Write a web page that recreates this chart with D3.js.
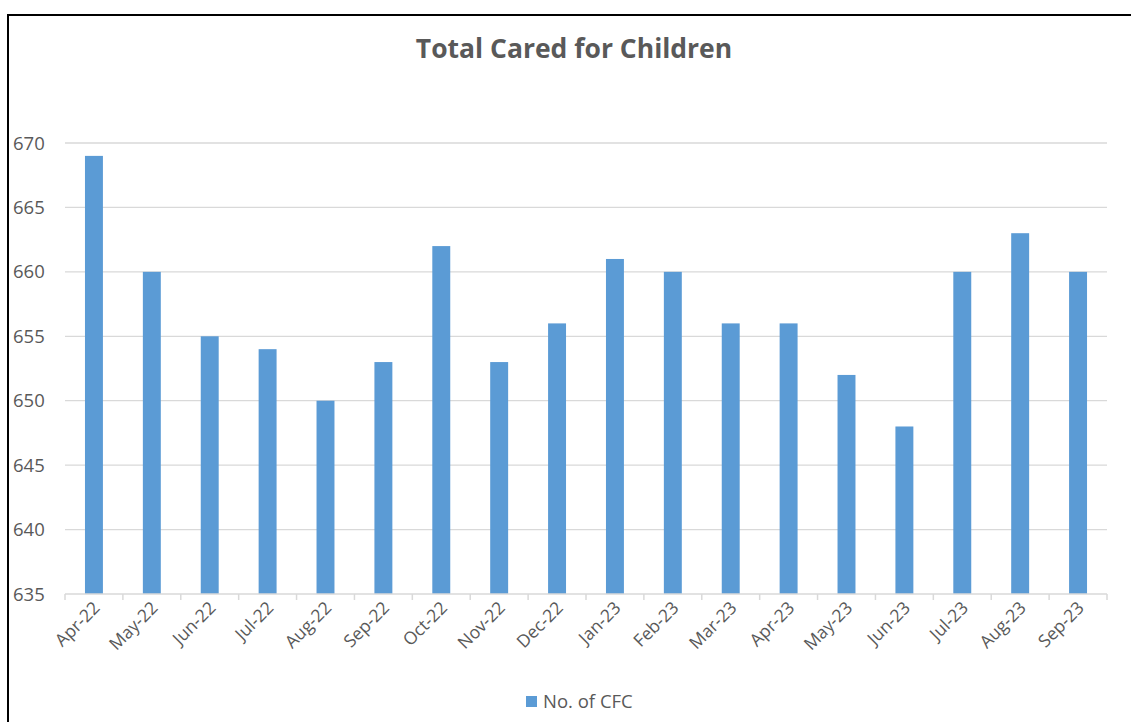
<!DOCTYPE html>
<html>
<head>
<meta charset="utf-8">
<script src="https://cdn.jsdelivr.net/npm/d3@7"></script>
<style>
  body { margin: 0; background: #fff; }
  text { font-family: "Open Sans", "Noto Sans", sans-serif; fill: #595959; }
</style>
</head>
<body>
<svg id="chart" width="1131" height="722"></svg>
<script>
const months = ["Apr-22","May-22","Jun-22","Jul-22","Aug-22","Sep-22","Oct-22","Nov-22","Dec-22",
  "Jan-23","Feb-23","Mar-23","Apr-23","May-23","Jun-23","Jul-23","Aug-23","Sep-23"];
const cfc = [669, 660, 655, 654, 650, 653, 662, 653, 656, 661, 660, 656, 656, 652, 648, 660, 663, 660];
const yTicks = [635, 640, 645, 650, 655, 660, 665, 670];
const chartTitle = "Total Cared for Children";
const seriesName = "No. of CFC";

let svg = d3.select("#chart");
let width = +svg.attr("width");
let height = +svg.attr("height");

// outer frame (only top and left edges visible in the crop)
svg.append("path")
  .attr("d", "M8," + height + " V15 H" + width)
  .attr("fill", "none").attr("stroke", "#000").attr("stroke-width", 2);

let plotLeft = 65, plotRight = 1107, plotTop = 143, plotBottom = 594;

let x = d3.scaleBand().domain(months).range([plotLeft, plotRight]).paddingInner(0.69).paddingOuter(0.345);
let y = d3.scaleLinear().domain([635, 670]).range([plotBottom, plotTop]);

// gridlines
svg.append("g").selectAll("line").data(yTicks.slice(1)).join("line")
  .attr("x1", plotLeft).attr("x2", plotRight)
  .attr("y1", d => y(d)).attr("y2", d => y(d))
  .attr("stroke", "#d9d9d9").attr("stroke-width", 1.3);

// y labels
svg.append("g").selectAll("text").data(yTicks).join("text")
  .attr("x", 13).attr("y", d => y(d) + 6.5)
  .attr("font-size", 18.5)
  .text(d => d);

// bars
svg.append("g").selectAll("rect").data(cfc).join("rect")
  .attr("x", (d, i) => x(months[i]))
  .attr("width", x.bandwidth())
  .attr("y", d => y(d))
  .attr("height", d => y(635) - y(d))
  .attr("fill", "#5b9bd5");

// x axis line + ticks at category boundaries
let step = x.step();
let ax = svg.append("g");
ax.append("line").attr("x1", plotLeft).attr("x2", plotRight).attr("y1", plotBottom).attr("y2", plotBottom)
  .attr("stroke", "#d9d9d9").attr("stroke-width", 1.5);
ax.selectAll(".tk").data(d3.range(months.length + 1)).join("line").attr("class", "tk")
  .attr("x1", i => plotLeft + i * step).attr("x2", i => plotLeft + i * step)
  .attr("y1", plotBottom).attr("y2", plotBottom + 6)
  .attr("stroke", "#d9d9d9").attr("stroke-width", 1.5);

ax.selectAll("text").data(months).join("text")
  .attr("transform", d => "translate(" + (x(d) + x.bandwidth() / 2 + 7) + "," + (plotBottom + 15) + ") rotate(-45)")
  .attr("text-anchor", "end")
  .attr("font-size", 17.5)
  .text(d => d);

// title
svg.append("text")
  .attr("x", 574).attr("y", 58)
  .attr("text-anchor", "middle")
  .attr("font-size", 26.5).attr("font-weight", "bold")
  .text(chartTitle);

// legend
let lg = svg.append("g").attr("transform", "translate(526,696)");
lg.append("rect").attr("width", 11).attr("height", 11).attr("fill", "#5b9bd5");
lg.append("text").attr("x", 17).attr("y", 12).attr("font-size", 18.5).text(seriesName);
</script>
</body>
</html>
